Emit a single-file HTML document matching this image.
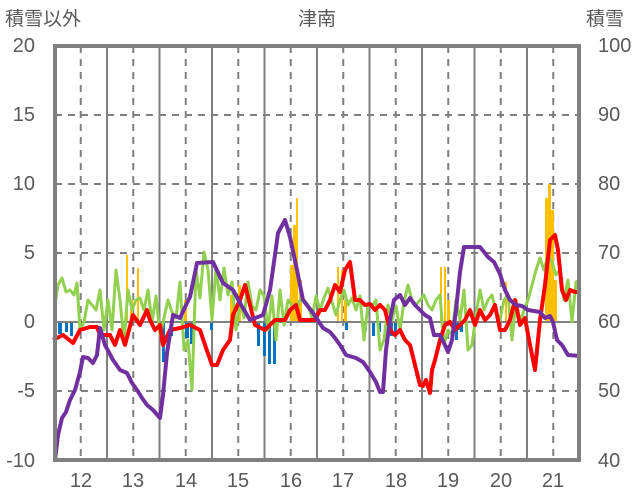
<!DOCTYPE html>
<html><head><meta charset="utf-8"><style>
html,body{margin:0;padding:0;background:#fff;width:636px;height:501px;overflow:hidden}
svg text{font-family:"Liberation Sans","Noto Sans CJK JP",sans-serif;fill:#595959}
</style></head><body>
<svg width="636" height="501" viewBox="0 0 636 501" xmlns="http://www.w3.org/2000/svg">
<g stroke="#808080" stroke-width="2" stroke-dasharray="7,6">
<line x1="55" y1="115" x2="579" y2="115"/><line x1="55" y1="184" x2="579" y2="184"/>
<line x1="55" y1="253" x2="579" y2="253"/><line x1="55" y1="391" x2="579" y2="391"/>
<line x1="80.75" y1="46" x2="80.75" y2="460"/><line x1="133.25" y1="46" x2="133.25" y2="460"/>
<line x1="185.75" y1="46" x2="185.75" y2="460"/><line x1="238.25" y1="46" x2="238.25" y2="460"/>
<line x1="290.75" y1="46" x2="290.75" y2="460"/><line x1="343.25" y1="46" x2="343.25" y2="460"/>
<line x1="395.75" y1="46" x2="395.75" y2="460"/><line x1="448.25" y1="46" x2="448.25" y2="460"/>
<line x1="500.75" y1="46" x2="500.75" y2="460"/><line x1="553.25" y1="46" x2="553.25" y2="460"/>
</g>
<g stroke="#808080" stroke-width="2">
<line x1="107" y1="46" x2="107" y2="460"/><line x1="159.5" y1="46" x2="159.5" y2="460"/>
<line x1="212" y1="46" x2="212" y2="460"/><line x1="264.5" y1="46" x2="264.5" y2="460"/>
<line x1="317" y1="46" x2="317" y2="460"/><line x1="369.5" y1="46" x2="369.5" y2="460"/>
<line x1="422" y1="46" x2="422" y2="460"/><line x1="474.5" y1="46" x2="474.5" y2="460"/>
<line x1="527" y1="46" x2="527" y2="460"/>
</g>
<g fill="#FFC000">
<rect x="126" y="255" width="2" height="67"/><rect x="137" y="268" width="2" height="54"/><rect x="130" y="300" width="3" height="22"/>
<rect x="184" y="300" width="3" height="22"/><rect x="230" y="295" width="4" height="27"/><rect x="238" y="285" width="3" height="37"/>
<rect x="290" y="265" width="3" height="57"/><rect x="293" y="225" width="3" height="97"/><rect x="296" y="198" width="2" height="124"/><rect x="299" y="280" width="3" height="42"/>
<rect x="337" y="267" width="2" height="55"/><rect x="341" y="270" width="2" height="52"/><rect x="344" y="300" width="3" height="22"/>
<rect x="440" y="267" width="2" height="55"/><rect x="444" y="267" width="2" height="55"/><rect x="447" y="300" width="3" height="22"/>
<rect x="505" y="282" width="2" height="40"/>
<rect x="545" y="198" width="3" height="124"/><rect x="548" y="184" width="3" height="138"/><rect x="551" y="210" width="3" height="112"/><rect x="554" y="280" width="3" height="42"/>
</g>
<g fill="#0070C0">
<rect x="58" y="322" width="4" height="12"/><rect x="65" y="322" width="3" height="10"/><rect x="70" y="322" width="3" height="14"/>
<rect x="162" y="322" width="3" height="40"/><rect x="170" y="322" width="3" height="14"/><rect x="185" y="322" width="4" height="16"/><rect x="190" y="322" width="3" height="22"/>
<rect x="210" y="322" width="3" height="8"/>
<rect x="257" y="322" width="3" height="24"/><rect x="263" y="322" width="3" height="34"/><rect x="268" y="322" width="3" height="42"/><rect x="273" y="322" width="3" height="42"/>
<rect x="345" y="322" width="3" height="8"/><rect x="363" y="322" width="4" height="8"/><rect x="372" y="322" width="3" height="14"/><rect x="378" y="322" width="3" height="10"/>
<rect x="390" y="322" width="3" height="14"/><rect x="394" y="322" width="3" height="10"/>
<rect x="455" y="322" width="3" height="18"/><rect x="458" y="322" width="3" height="8"/><rect x="460" y="322" width="3" height="10"/>
</g>
<line x1="55" y1="322" x2="579" y2="322" stroke="#808080" stroke-width="2"/>
<polyline fill="none" stroke="#92D050" stroke-width="3" stroke-linejoin="round" points="55,305 58,285 62,278 66,292 70,290 74,295 77,283 80,330 84,322 88,300 92,305 96,310 100,290 104,330 108,300 112,330 116,270 120,300 124,342 128,290 132,310 136,300 140,298 144,310 148,290 152,322 156,296 160,335 164,318 168,300 172,312 176,318 180,282 184,350 188,340 192,390 196,270 200,298 204,252 208,270 212,320 216,268 220,300 224,268 228,295 232,282 236,330 240,300 244,318 248,282 252,306 256,310 260,290 264,296 268,330 272,296 276,340 280,290 284,325 288,300 292,305 296,310 300,300 304,300 308,305 312,318 316,296 320,310 324,298 328,288 332,302 336,315 340,300 344,290 348,305 352,298 356,310 360,296 364,340 368,304 372,306 376,300 380,350 384,340 388,305 392,320 396,306 400,330 404,302 408,285 412,300 416,305 420,300 424,295 428,305 432,310 436,300 440,295 444,345 448,330 452,335 456,300 460,320 464,290 468,350 472,345 476,315 480,290 484,310 488,300 492,295 496,312 500,320 504,300 508,295 512,340 516,300 520,322 524,310 528,300 532,285 536,270 540,258 544,270 548,255 552,262 556,275 560,270 564,300 568,280 572,322 576,282 580,280"/>
<polyline fill="none" stroke="#FF0000" stroke-width="4" stroke-linejoin="round" points="53,340 63,335 73,343 80,330 90,327 97,327 100,335 110,335 115,345 120,330 125,345 133,315 140,325 147,310 150,320 155,330 160,325 163,345 170,330 180,328 190,325 200,330 205,345 212,365 217,365 223,350 230,340 233,315 240,300 245,285 250,305 255,325 265,330 275,320 285,320 290,310 296,305 300,320 310,320 315,320 320,310 325,310 330,300 335,285 340,292 345,270 350,262 355,300 360,300 365,305 370,304 375,310 380,305 385,310 390,330 395,335 400,330 405,340 410,345 415,365 420,385 423,386 426,380 430,393 432,370 435,360 440,340 445,325 450,322 455,330 460,325 465,320 470,310 475,325 480,310 485,320 490,315 495,305 500,330 505,330 510,320 515,300 520,325 525,318 530,345 535,370 540,320 545,285 550,240 555,235 558,250 562,290 566,300 570,290 575,292 580,292"/>
<polyline fill="none" stroke="#7030A0" stroke-width="4" stroke-linejoin="round" points="55,460 58,435 62,418 66,412 70,400 75,390 80,372 83,357 88,358 93,363 97,355 100,328 105,345 113,360 120,370 127,373 132,383 137,390 142,398 147,405 153,410 160,418 163,395 167,353 173,315 180,318 186,305 190,297 197,263 213,262 223,283 233,290 240,303 250,320 263,315 270,290 275,255 278,233 285,220 290,237 297,270 303,300 313,313 323,328 330,332 335,338 340,345 346,355 356,358 363,362 370,372 376,382 380,392 383,392 386,350 390,320 394,300 400,295 405,305 410,298 415,305 420,310 425,315 430,318 434,335 440,335 444,343 448,352 452,340 456,310 460,272 464,247 480,247 488,257 494,262 500,274 505,290 510,300 516,305 522,306 528,310 540,312 545,318 550,316 553,322 557,340 562,345 568,355 580,356"/>
<rect x="55" y="46" width="524" height="414" fill="none" stroke="#808080" stroke-width="4"/>
<g font-size="20" text-anchor="end">
<text x="35" y="52">20</text><text x="35" y="121">15</text><text x="35" y="190">10</text><text x="35" y="259">5</text><text x="35" y="328">0</text><text x="35" y="397">-5</text><text x="35" y="467">-10</text>
</g>
<g font-size="20" text-anchor="start">
<text x="598" y="52">100</text><text x="598" y="121">90</text><text x="598" y="190">80</text><text x="598" y="259">70</text><text x="598" y="328">60</text><text x="598" y="397">50</text><text x="598" y="467">40</text>
</g>
<g font-size="20" text-anchor="middle">
<text x="81" y="487">12</text><text x="133" y="487">13</text><text x="186" y="487">14</text><text x="238" y="487">15</text><text x="291" y="487">16</text><text x="343" y="487">17</text><text x="396" y="487">18</text><text x="448" y="487">19</text><text x="501" y="487">20</text><text x="553" y="487">21</text>
</g>
<text x="5" y="25" font-size="19">積雪以外</text>
<text x="317" y="25" font-size="19" text-anchor="middle">津南</text>
<text x="586" y="25" font-size="19">積雪</text>
</svg>
</body></html>
